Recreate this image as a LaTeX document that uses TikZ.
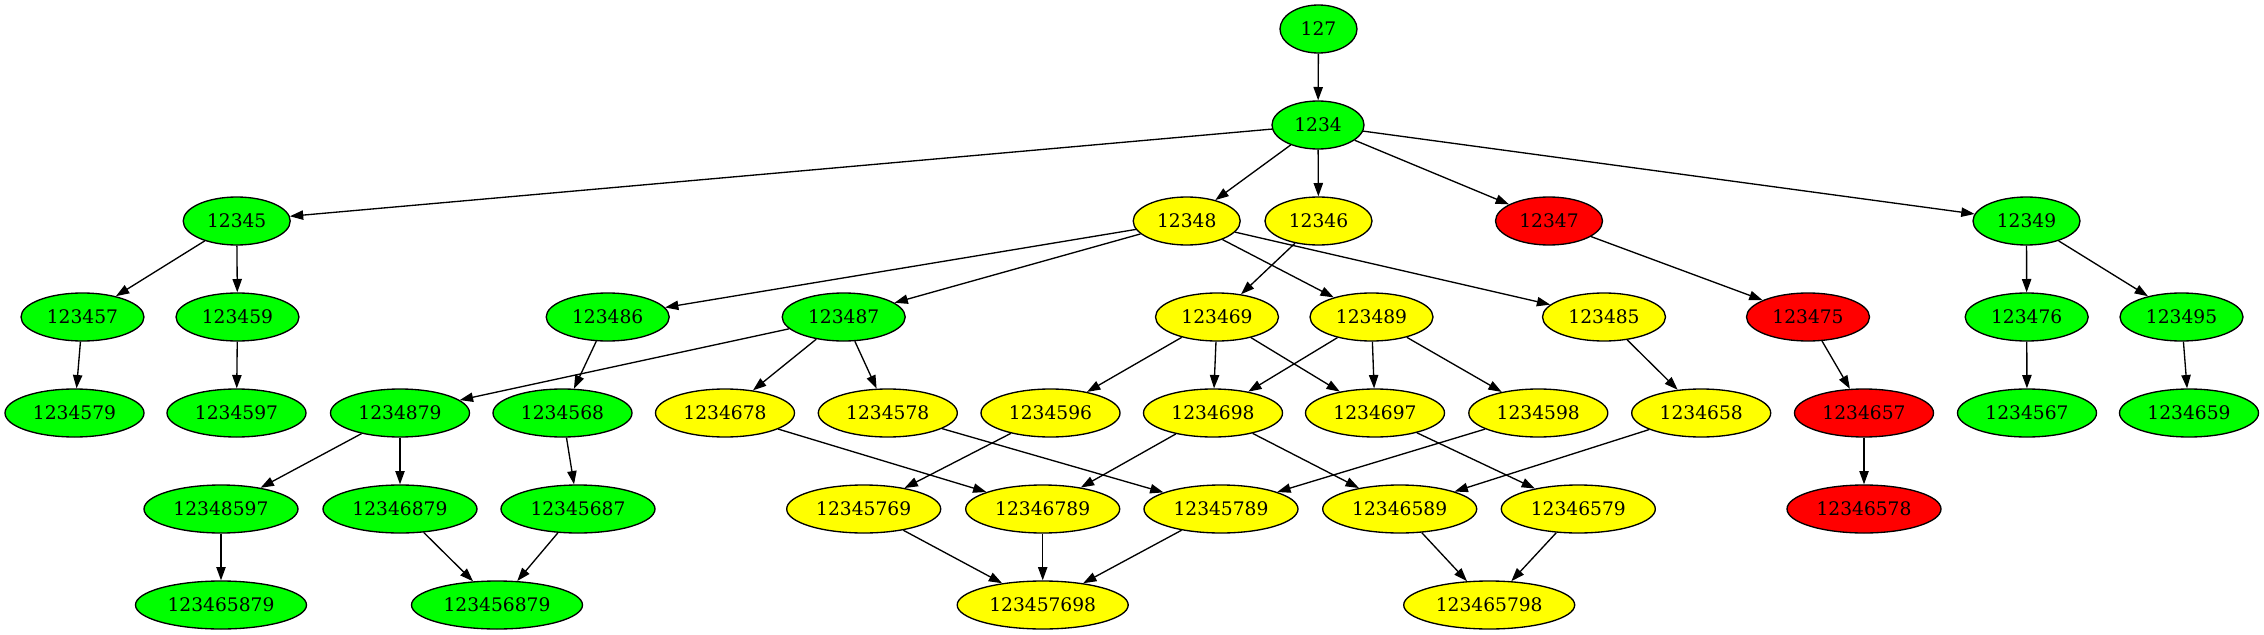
\documentclass[tikz,border=0pt]{standalone}
\usepackage{fontspec}
\setmainfont{DejaVu Serif}
\usetikzlibrary{arrows.meta,shapes.geometric}
\definecolor{gvgreen}{RGB}{0,255,0}
\definecolor{gvyellow}{RGB}{255,255,0}
\definecolor{gvred}{RGB}{255,0,0}
\tikzset{
  state/.style = {ellipse, draw, line width=1pt, minimum height=36pt, inner sep=0pt,
                  font=\fontsize{14}{16}\selectfont},
  grn/.style = {state, fill=gvgreen},
  yel/.style = {state, fill=gvyellow},
  rd/.style  = {state, fill=gvred},
  link/.style = {-{Triangle[length=10pt,width=7pt]}, line width=1pt}
}
\begin{document}
\begin{tikzpicture}[x=0.75pt, y=-0.75pt]
    \useasboundingbox (0,0) rectangle (2264,635);
    % level 0 and 1
    \node (n127)  [grn, minimum width=57.75pt] at (1318.5,29) {127};
    \node (n1234) [grn, minimum width=69pt] at (1318,125) {1234};
    % level 2
    \begin{scope}[every node/.append style={minimum width=80.25pt}]
        \node (n12345) [grn] at (236.7,221) {12345};
        \node (n12348) [yel] at (1186.7,221) {12348};
        \node (n12346) [yel] at (1318.5,221) {12346};
        \node (n12347) [rd]  at (1549,221) {12347};
        \node (n12349) [grn] at (2026.5,221) {12349};
    \end{scope}
    % level 3
    \begin{scope}[every node/.append style={minimum width=92.25pt}]
        \node (n123457) [grn] at (82.5,317) {123457};
        \node (n123459) [grn] at (237.5,317) {123459};
        \node (n123486) [grn] at (607.7,317) {123486};
        \node (n123487) [grn] at (843.7,317) {123487};
        \node (n123469) [yel] at (1217,317) {123469};
        \node (n123489) [yel] at (1371.5,317) {123489};
        \node (n123485) [yel] at (1604,317) {123485};
        \node (n123475) [rd]  at (1808,317) {123475};
        \node (n123476) [grn] at (2026.7,317) {123476};
        \node (n123495) [grn] at (2181.5,317) {123495};
    \end{scope}
    % level 4
    \begin{scope}[every node/.append style={minimum width=104.25pt}]
        \node (n1234579) [grn] at (74.5,413) {1234579};
        \node (n1234597) [grn] at (236.5,413) {1234597};
        \node (n1234879) [grn] at (400,413) {1234879};
        \node (n1234568) [grn] at (562.5,413) {1234568};
        \node (n1234678) [yel] at (725,413) {1234678};
        \node (n1234578) [yel] at (887.8,413) {1234578};
        \node (n1234596) [yel] at (1050.5,413) {1234596};
        \node (n1234698) [yel] at (1213,413) {1234698};
        \node (n1234697) [yel] at (1375,413) {1234697};
        \node (n1234598) [yel] at (1538.3,413) {1234598};
        \node (n1234658) [yel] at (1701.2,413) {1234658};
        \node (n1234657) [rd]  at (1864,413) {1234657};
        \node (n1234567) [grn] at (2027,413) {1234567};
        \node (n1234659) [grn] at (2189,413) {1234659};
    \end{scope}
    % level 5
    \begin{scope}[every node/.append style={minimum width=115.5pt}]
        \node (n12348597) [grn] at (221,509) {12348597};
        \node (n12346879) [grn] at (400,509) {12346879};
        \node (n12345687) [grn] at (578,509) {12345687};
        \node (n12345769) [yel] at (863.7,509) {12345769};
        \node (n12346789) [yel] at (1042.7,509) {12346789};
        \node (n12345789) [yel] at (1221,509) {12345789};
        \node (n12346589) [yel] at (1399.7,509) {12346589};
        \node (n12346579) [yel] at (1578.3,509) {12346579};
        \node (n12346578) [rd]  at (1864,509) {12346578};
    \end{scope}
    % level 6
    \begin{scope}[every node/.append style={minimum width=128.25pt}]
        \node (n123465879) [grn] at (221,605) {123465879};
        \node (n123456879) [grn] at (497,605) {123456879};
        \node (n123457698) [yel] at (1042.7,605) {123457698};
        \node (n123465798) [yel] at (1489.2,605) {123465798};
    \end{scope}
    % edges
    \path (n127) edge [link] (n1234);
    \path (n1234) edge [link] (n12345) edge [link] (n12348) edge [link] (n12346)
                  edge [link] (n12347) edge [link] (n12349);
    \path (n12345) edge [link] (n123457) edge [link] (n123459);
    \path (n12348) edge [link] (n123486) edge [link] (n123487)
                   edge [link] (n123489) edge [link] (n123485);
    \path (n12346) edge [link] (n123469);
    \path (n12347) edge [link] (n123475);
    \path (n12349) edge [link] (n123476) edge [link] (n123495);
    \path (n123457) edge [link] (n1234579);
    \path (n123459) edge [link] (n1234597);
    \path (n123486) edge [link] (n1234568);
    \path (n123487) edge [link] (n1234879) edge [link] (n1234678) edge [link] (n1234578);
    \path (n123469) edge [link] (n1234596) edge [link] (n1234698) edge [link] (n1234697);
    \path (n123489) edge [link] (n1234698) edge [link] (n1234697) edge [link] (n1234598);
    \path (n123485) edge [link] (n1234658);
    \path (n123475) edge [link] (n1234657);
    \path (n123476) edge [link] (n1234567);
    \path (n123495) edge [link] (n1234659);
    \path (n1234879) edge [link] (n12348597) edge [link] (n12346879);
    \path (n1234568) edge [link] (n12345687);
    \path (n1234678) edge [link] (n12346789);
    \path (n1234578) edge [link] (n12345789);
    \path (n1234596) edge [link] (n12345769);
    \path (n1234698) edge [link] (n12346789) edge [link] (n12346589);
    \path (n1234697) edge [link] (n12346579);
    \path (n1234598) edge [link] (n12345789);
    \path (n1234658) edge [link] (n12346589);
    \path (n1234657) edge [link] (n12346578);
    \path (n12348597) edge [link] (n123465879);
    \path (n12346879) edge [link] (n123456879);
    \path (n12345687) edge [link] (n123456879);
    \path (n12345769) edge [link] (n123457698);
    \path (n12346789) edge [link] (n123457698);
    \path (n12345789) edge [link] (n123457698);
    \path (n12346589) edge [link] (n123465798);
    \path (n12346579) edge [link] (n123465798);
\end{tikzpicture}
\end{document}
